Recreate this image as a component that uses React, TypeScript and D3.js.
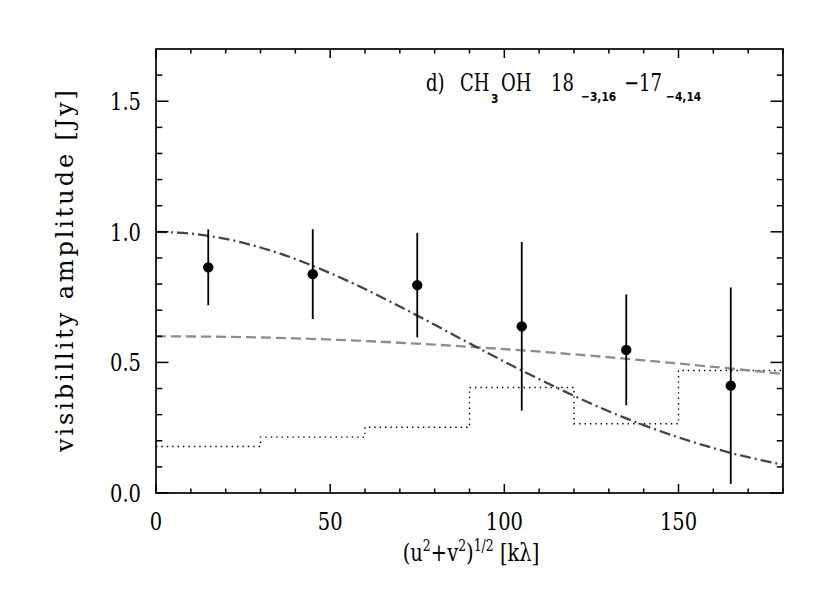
import React, { useEffect, useRef } from "react"
import * as d3 from "d3"

// measured visibilities
const uvDist = [15, 45, 75, 105, 135, 165]
const amp = [0.864, 0.838, 0.796, 0.638, 0.548, 0.411]
const ampErr = [0.145, 0.172, 0.2, 0.323, 0.212, 0.376]

// model curves
const modelX = [0, 10, 20, 30, 40, 50, 60, 70, 80, 90, 100, 110, 120, 130, 140, 150, 160, 170, 180]
const compactModel = [1.0, 0.993, 0.973, 0.94, 0.896, 0.842, 0.781, 0.714, 0.644, 0.573, 0.503, 0.436, 0.372, 0.313, 0.26, 0.213, 0.172, 0.137, 0.108]
const extModelX = [0, 20, 40, 60, 80, 100, 120, 140, 160, 180]
const extModel = [0.6, 0.598, 0.592, 0.582, 0.568, 0.551, 0.531, 0.508, 0.483, 0.456]

// zero-spacing expectation histogram
const binEdges = [0, 30, 60, 90, 120, 150, 180]
const binVals = [0.178, 0.214, 0.252, 0.404, 0.265, 0.469]

const xMajor = [0, 50, 100, 150]
const yMajor = [0.0, 0.5, 1.0, 1.5]

function App() {
  const ref = useRef<SVGSVGElement>(null)

  useEffect(() => {
    const width = 830
    const height = 593
    const m = { left: 156, right: 783, top: 49, bottom: 493 }
    const svg = d3.select(ref.current).attr("width", width).attr("height", height)
    svg.selectAll("*").remove()

    const x = d3.scaleLinear().domain([0, 180]).range([m.left, m.right])
    const y = d3.scaleLinear().domain([0, 1.7]).range([m.bottom, m.top])
    const font = "'DejaVu Serif', serif"
    const fs = 25
    const sx = 0.78 // the original font is narrow and tall

    // histogram (dotted)
    const stepPts: [number, number][] = []
    binVals.forEach((v, i) => {
      stepPts.push([binEdges[i], v])
      stepPts.push([binEdges[i + 1], v])
    })
    svg
      .append("path")
      .attr("d", d3.line().x(d => x(d[0])).y(d => y(d[1]))(stepPts))
      .attr("fill", "none")
      .attr("stroke", "#000")
      .attr("stroke-width", 1.4)
      .attr("stroke-dasharray", "1.4,4")

    // extended model (gray dashed)
    svg
      .append("path")
      .attr(
        "d",
        d3
          .line<number>()
          .curve(d3.curveCatmullRom)
          .x((d, i) => x(extModelX[i]))
          .y(d => y(d))(extModel)
      )
      .attr("fill", "none")
      .attr("stroke", "#8c8c8c")
      .attr("stroke-width", 2.3)
      .attr("stroke-dasharray", "10,5")

    // compact model (dash-dot)
    svg
      .append("path")
      .attr(
        "d",
        d3
          .line<number>()
          .curve(d3.curveCatmullRom)
          .x((d, i) => x(modelX[i]))
          .y(d => y(d))(compactModel)
      )
      .attr("fill", "none")
      .attr("stroke", "#444")
      .attr("stroke-width", 2.3)
      .attr("stroke-dasharray", "11,4,2,4")

    // error bars + points
    const g = svg.append("g")
    g.selectAll("line")
      .data(uvDist)
      .join("line")
      .attr("x1", d => x(d))
      .attr("x2", d => x(d))
      .attr("y1", (d, i) => y(amp[i] - ampErr[i]))
      .attr("y2", (d, i) => y(amp[i] + ampErr[i]))
      .attr("stroke", "#000")
      .attr("stroke-width", 1.8)
    g.selectAll("circle")
      .data(uvDist)
      .join("circle")
      .attr("cx", d => x(d))
      .attr("cy", (d, i) => y(amp[i]))
      .attr("r", 5.2)
      .attr("fill", "#000")

    // frame
    svg
      .append("rect")
      .attr("x", m.left)
      .attr("y", m.top)
      .attr("width", m.right - m.left)
      .attr("height", m.bottom - m.top)
      .attr("fill", "none")
      .attr("stroke", "#000")
      .attr("stroke-width", 1.7)

    // ticks on all sides
    const ticks = svg.append("g").attr("stroke", "#000").attr("stroke-width", 1.5)
    d3.range(0, 181, 10).forEach(v => {
      const len = v % 50 === 0 ? 9 : 4.5
      ticks.append("line").attr("x1", x(v)).attr("x2", x(v)).attr("y1", m.bottom).attr("y2", m.bottom - len)
      ticks.append("line").attr("x1", x(v)).attr("x2", x(v)).attr("y1", m.top).attr("y2", m.top + len)
    })
    d3.range(0, 17).forEach(i => {
      const v = i / 10
      const len = i % 5 === 0 ? 12.5 : 6.3
      ticks.append("line").attr("y1", y(v)).attr("y2", y(v)).attr("x1", m.left).attr("x2", m.left + len)
      ticks.append("line").attr("y1", y(v)).attr("y2", y(v)).attr("x1", m.right).attr("x2", m.right - len)
    })

    // tick labels
    svg
      .append("g")
      .attr("font-family", font)
      .attr("font-size", fs)
      .attr("text-anchor", "middle")
      .selectAll("text")
      .data(xMajor)
      .join("text")
      .attr("transform", d => `translate(${x(d)},530) scale(${sx},1)`)
      .text(d => d)
    svg
      .append("g")
      .attr("font-family", font)
      .attr("font-size", fs)
      .attr("text-anchor", "end")
      .selectAll("text")
      .data(yMajor)
      .join("text")
      .attr("transform", d => `translate(141,${y(d) + 9}) scale(${sx},1)`)
      .text(d => d.toFixed(1))

    // axis titles
    const xl = svg
      .append("text")
      .attr("font-family", font)
      .attr("font-size", fs)
      .attr("text-anchor", "middle")
      .attr("transform", `translate(471,561) scale(${sx},1)`)
    xl.append("tspan").text("(u")
    xl.append("tspan").attr("font-size", 16).attr("dy", -10).text("2")
    xl.append("tspan").attr("dy", 10).text("+v")
    xl.append("tspan").attr("font-size", 16).attr("dy", -10).text("2")
    xl.append("tspan").attr("dy", 10).text(")")
    xl.append("tspan").attr("font-size", 16).attr("dy", -10).text("1/2")
    xl.append("tspan").attr("dy", 10).text(" [kλ]")

    svg
      .append("text")
      .attr("font-family", font)
      .attr("font-size", 24)
      .attr("text-anchor", "middle")
      .attr("transform", "translate(73,271) rotate(-90)")
      .attr("textLength", 362)
      .attr("lengthAdjust", "spacing")
      .text("visibillity amplitude [Jy]")

    // panel label
    const sub = "'DejaVu Sans', sans-serif"
    const title = svg.append("g").attr("font-family", font).attr("font-size", 24)
    const main = (tx: string, px: number) =>
      title.append("text").attr("transform", `translate(${px},91) scale(0.75,1)`).text(tx)
    const low = (tx: string, px: number, py: number) =>
      title
        .append("text")
        .attr("font-family", sub)
        .attr("font-weight", "bold")
        .attr("font-size", 13)
        .attr("transform", `translate(${px},${py}) scale(0.82,1)`)
        .text(tx)
    main("d)", 426)
    main("CH", 460)
    low("3", 491, 103)
    main("OH", 501)
    main("18", 551)
    low("−3,16", 581, 101)
    main("−17", 624)
    low("−4,14", 666, 101)
  }, [])

  return <svg ref={ref} style={{ position: "absolute", left: 0, top: 0, background: "#fff" }} />
}

export default App
